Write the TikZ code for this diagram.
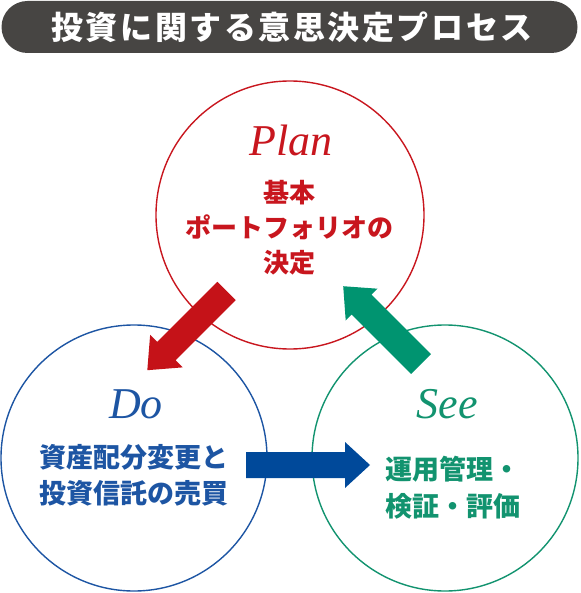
\documentclass[tikz,border=0pt]{standalone}
\usepackage{fontspec}
\setmainfont{Liberation Serif}
\newfontfamily\jp{Noto Sans CJK JP}
\newfontfamily\jptitle{Noto Sans CJK JP}[LetterSpace=8]
\definecolor{banner}{HTML}{474543}
\definecolor{planred}{HTML}{C8161E}
\definecolor{doblue}{HTML}{1D55A3}
\definecolor{seegreen}{HTML}{12936F}
\definecolor{redarrow}{HTML}{C51218}
\definecolor{bluearrow}{HTML}{00499A}
\definecolor{greenarrow}{HTML}{009470}
\tikzset{
  ring/.style={circle, line width=1.4pt, minimum size=#1, inner sep=0pt},
  engl/.style={font=\fontsize{44}{44}\selectfont\itshape, anchor=base, inner sep=0pt},
  jptext/.style n args={2}{font=\jp\bfseries\fontsize{#1}{#2}\selectfont, inner sep=0pt},
}
% fat arrow: length, shaft width, head width, head length
\newcommand{\fatarrow}[5]{%
  \fill[#5] (0,-#2/2) -- (#1-#4,-#2/2) -- (#1-#4,-#3/2) -- (#1,0) -- (#1-#4,#3/2) -- (#1-#4,#2/2) -- (0,#2/2) -- cycle;}
\begin{document}
\begin{tikzpicture}[x=1pt,y=-1pt]
\useasboundingbox (0,0) rectangle (580,593);
% title banner
\node[fill=banner, rounded corners=26pt, minimum width=576pt, minimum height=52pt, inner sep=0pt] (titlebar) at (289.5,27) {};
\node[text=white, font=\jptitle\bfseries\fontsize{32}{32}\selectfont, inner sep=0pt] (title) at (292,27) {投資に関する意思決定プロセス};
% circles
\node[ring=268pt, draw=planred] (plan) at (290,215) {};
\node[ring=266pt, draw=doblue] (do) at (134,458) {};
\node[ring=266pt, draw=seegreen] (see) at (445,458) {};
% labels
\node[engl, text=planred] (planlbl) at (291,156) {Plan};
\node[engl, text=doblue] (dolbl) at (136,418) {Do};
\node[engl, text=seegreen] (seelbl) at (447,418) {See};
\node[jptext={26}{35pt}, text=planred, align=center] (plantxt) at (289,228) {基本\\ポートフォリオの\\決定};
\node[jptext={27}{36pt}, text=doblue, align=center] (dotxt) at (134,475) {資産配分変更と\\投資信託の売買};
\node[jptext={27}{37pt}, text=seegreen, align=left, anchor=west] (seetxt) at (385,488) {運用管理・\\検証・評価};
% arrows
\coordinate (redtail) at (226.5,291);
\coordinate (greentail) at (421,364);
\coordinate (bluetail) at (246,465);
\begin{scope}[shift={(redtail)}, rotate=225]
  \fatarrow{112}{26}{46}{27}{redarrow}
\end{scope}
\begin{scope}[shift={(greentail)}, rotate=135]
  \fatarrow{110}{28}{45}{26}{greenarrow}
\end{scope}
\begin{scope}[shift={(bluetail)}]
  \fatarrow{124}{26}{46}{25}{bluearrow}
\end{scope}
\end{tikzpicture}
\end{document}
